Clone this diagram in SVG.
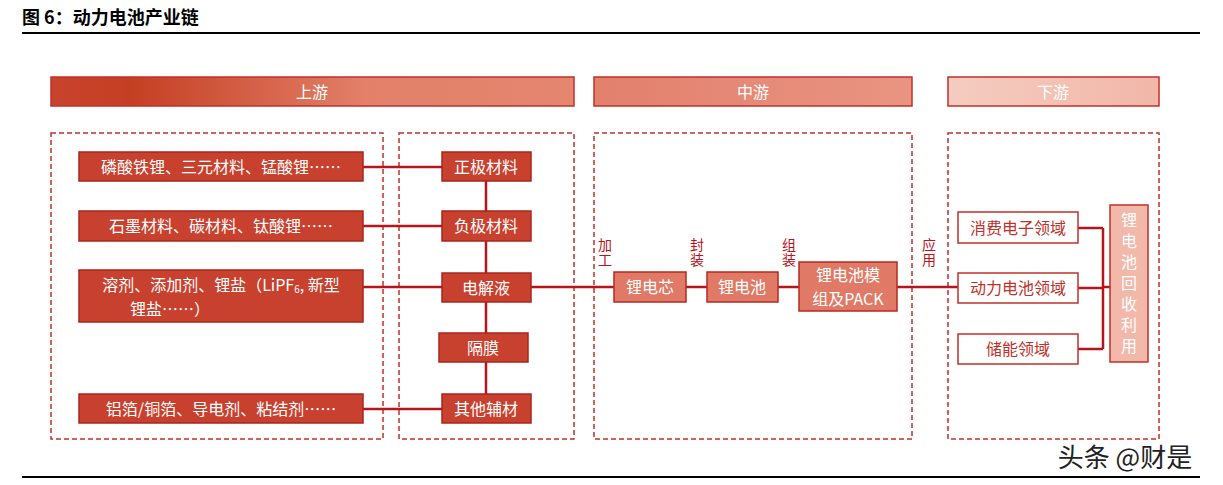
<svg xmlns="http://www.w3.org/2000/svg" width="1223" height="485" viewBox="0 0 1223 485">
<defs>
<linearGradient id="g1" x1="0" x2="1"><stop offset="0" stop-color="#c8432c"/><stop offset="0.15" stop-color="#c43f22"/><stop offset="0.6" stop-color="#e28069"/><stop offset="1" stop-color="#e58670"/></linearGradient>
<linearGradient id="g2" x1="0" x2="1"><stop offset="0" stop-color="#e2806c"/><stop offset="1" stop-color="#e99482"/></linearGradient>
<linearGradient id="g3" x1="0" x2="1"><stop offset="0" stop-color="#f5ccc1"/><stop offset="1" stop-color="#f1b7a8"/></linearGradient>
</defs>
<style>
text{font-family:"Noto Sans CJK SC","Noto Sans",sans-serif;font-size:16px;text-anchor:middle;dominant-baseline:central}
.hd{stroke:#c0312a;stroke-width:1.5}
.hdt{fill:#fff;font-size:16px}
.dash{fill:none;stroke:#c0312a;stroke-width:1.5;stroke-dasharray:5,3}
.dk{fill:#c8412e;stroke:#a8261d;stroke-width:1.5}
.dkt{fill:#fff}
.md{fill:#e07a66;stroke:#b52a20;stroke-width:1.5}
.wt{fill:#fff;stroke:#c0312a;stroke-width:1.5}
.wtt{fill:#c0312a}
.ln{stroke:#b8141b;stroke-width:2.5;fill:none}
.lb{fill:#b8141b;font-size:14px;writing-mode:vertical-rl;letter-spacing:1px}
.vt{fill:#fff;writing-mode:vertical-rl;letter-spacing:5px}
</style>
<text x="22" y="16" style="text-anchor:start;font-size:18px;font-weight:bold;fill:#000">图 6：动力电池产业链</text>
<line x1="22" y1="33" x2="1200" y2="33" stroke="#000" stroke-width="2"/>
<line x1="22" y1="477" x2="1200" y2="477" stroke="#000" stroke-width="2"/>
<g id="headers">
<rect x="51" y="77" width="523" height="29" fill="url(#g1)" class="hd"/><text x="312" y="91" class="hdt">上游</text>
<rect x="594" y="77" width="318" height="29" fill="url(#g2)" class="hd"/><text x="753" y="91" class="hdt">中游</text>
<rect x="948" y="77" width="211" height="29" fill="url(#g3)" class="hd"/><text x="1053" y="91" class="hdt">下游</text>
</g>
<g id="frames">
<rect x="51" y="133" width="332" height="306" class="dash"/>
<rect x="399" y="133" width="175" height="306" class="dash"/>
<rect x="594" y="133" width="318" height="306" class="dash"/>
<rect x="948" y="133" width="211" height="306" class="dash"/>
</g>
<g id="connectors">
<path class="ln" d="M363 167H442M363 226H442M363 287H442M363 409H442M486 167V408"/>
<path class="ln" d="M531 287H614M686 287H707M778 287H799M897 287H958"/>
<path class="ln" d="M1078 228H1103M1078 288H1103M1078 349H1103M1103 228V349M1103 287H1110"/>
</g>
<g id="n1"><rect x="79" y="152" width="284" height="29" class="dk"/><text x="221" y="166" class="dkt">磷酸铁锂、三元材料、锰酸锂……</text></g>
<g id="n2"><rect x="79" y="211" width="284" height="30" class="dk"/><text x="221" y="225" class="dkt">石墨材料、碳材料、钛酸锂……</text></g>
<g id="n3"><rect x="79" y="270" width="284" height="52" class="dk"/><text x="221" y="284" class="dkt">溶剂、添加剂、锂盐（LiPF<tspan font-size="10" dy="4">6</tspan><tspan dy="-4">, 新型</tspan></text><text x="170" y="308" class="dkt">锂盐……）</text></g>
<g id="n4"><rect x="79" y="394" width="284" height="29" class="dk"/><text x="221" y="408" class="dkt">铝箔/铜箔、导电剂、粘结剂……</text></g>
<g id="m1"><rect x="442" y="152" width="89" height="29" class="dk"/><text x="486" y="166" class="dkt">正极材料</text></g>
<g id="m2"><rect x="442" y="211" width="89" height="30" class="dk"/><text x="486" y="225" class="dkt">负极材料</text></g>
<g id="m3"><rect x="442" y="273" width="89" height="29" class="dk"/><text x="486" y="287" class="dkt">电解液</text></g>
<g id="m4"><rect x="439" y="333" width="89" height="29" class="dk"/><text x="483" y="347" class="dkt">隔膜</text></g>
<g id="m5"><rect x="442" y="394" width="89" height="29" class="dk"/><text x="486" y="408" class="dkt">其他辅材</text></g>
<g id="c1"><rect x="614" y="272" width="72" height="30" class="md"/><text x="650" y="286" class="dkt">锂电芯</text></g>
<g id="c2"><rect x="707" y="272" width="71" height="30" class="md"/><text x="742" y="286" class="dkt">锂电池</text></g>
<g id="c3"><rect x="799" y="262" width="98" height="49" class="md"/><text x="848" y="274" class="dkt">锂电池模</text><text x="848" y="298" class="dkt">组及PACK</text></g>
<g id="labels">
<text x="605" y="253" class="lb">加工</text>
<text x="697" y="253" class="lb">封装</text>
<text x="789" y="253" class="lb">组装</text>
<text x="929" y="253" class="lb">应用</text>
</g>
<g id="r1"><rect x="958" y="212" width="120" height="31" class="wt"/><text x="1018" y="227" class="wtt">消费电子领域</text></g>
<g id="r2"><rect x="958" y="273" width="120" height="30" class="wt"/><text x="1018" y="287" class="wtt">动力电池领域</text></g>
<g id="r3"><rect x="958" y="334" width="120" height="30" class="wt"/><text x="1018" y="348" class="wtt">储能领域</text></g>
<g id="rec"><rect x="1110" y="205" width="38" height="157" fill="#f2b9ab" stroke="#c0312a" stroke-width="1.5"/>
<text x="1129" y="285" class="vt">锂电池回收利用</text></g>
<text x="1125" y="455" style="font-size:26px;fill:#222">头条 @财是</text>
</svg>
